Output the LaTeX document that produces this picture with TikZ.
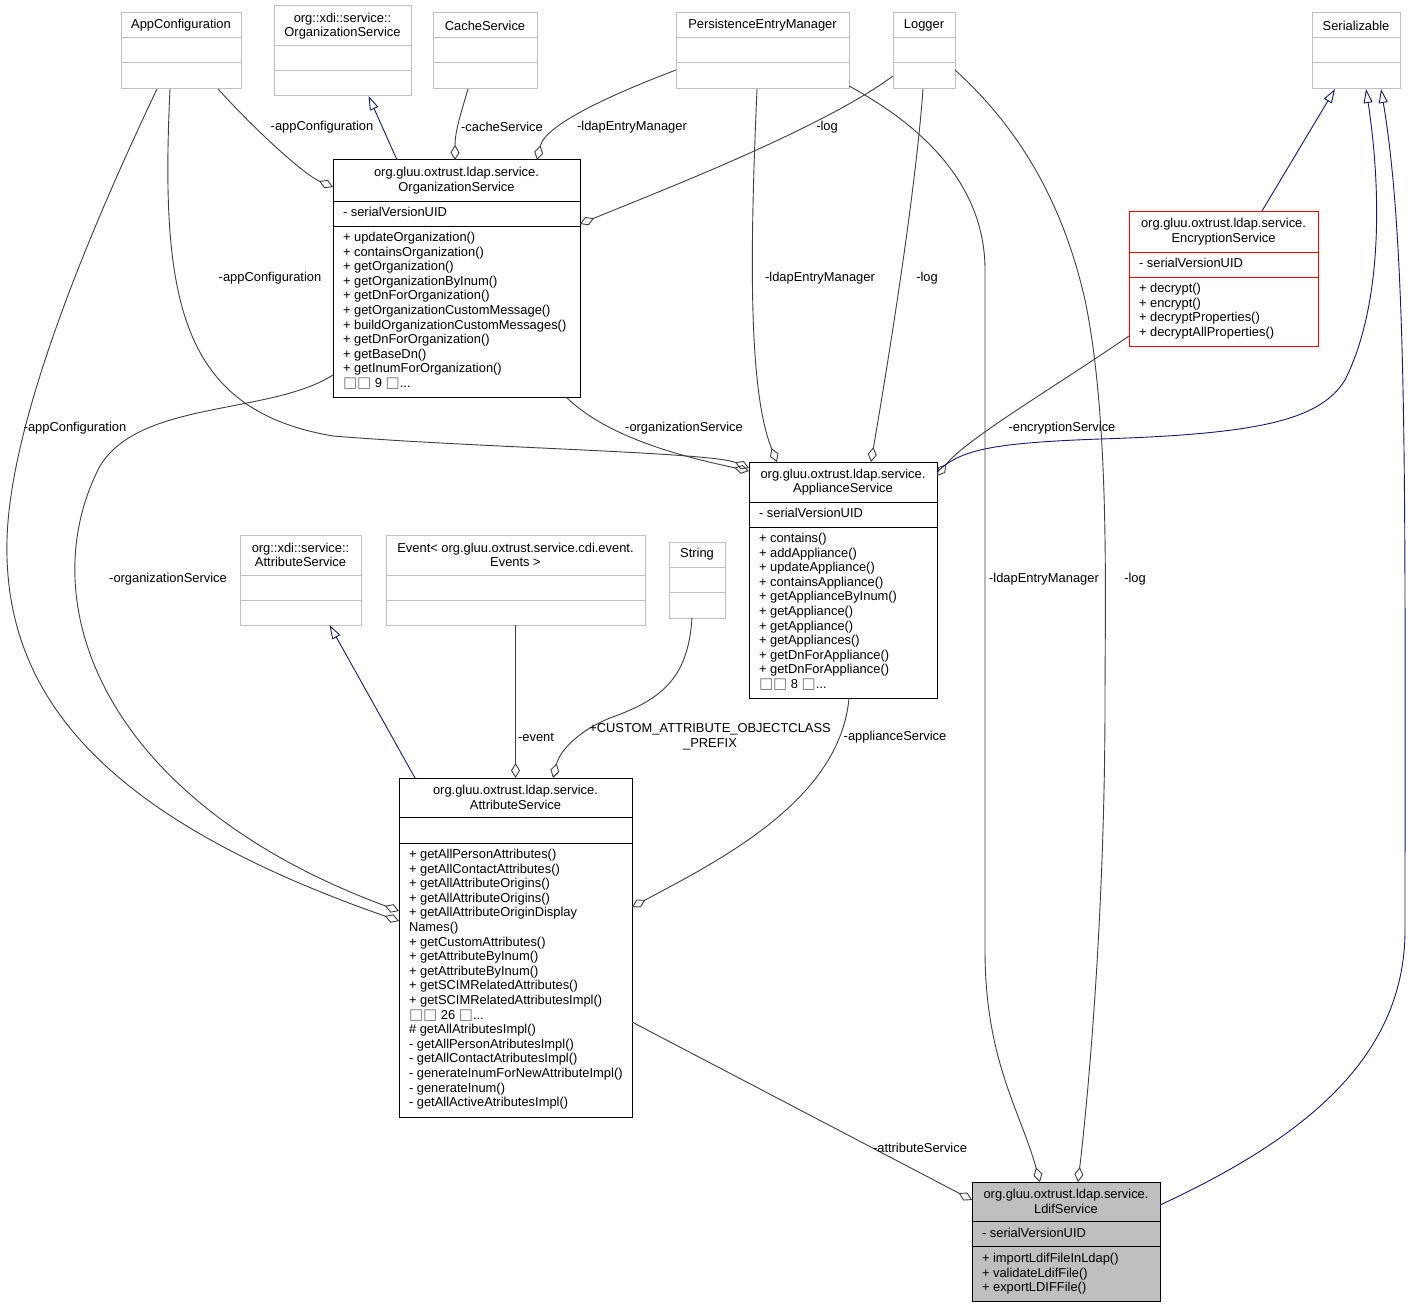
\documentclass[tikz,border=0pt]{standalone}
\usepackage{fontspec}
\setmainfont{Liberation Sans}
\newfontfamily\dejavu{DejaVu Sans}
\usetikzlibrary{arrows.meta}
\definecolor{edgegray}{HTML}{404040}
\definecolor{inhblue}{HTML}{191970}
\definecolor{boxgray}{HTML}{BFBFBF}
\newcommand{\cls}{\fontsize{12.9}{14.6}\selectfont}
\newcommand{\nog}{{\dejavu\fontsize{15}{14.6}\selectfont\textcolor{black!55}{□}}}
\newcommand{\classbox}[9]{\node[#2, minimum width=#5-#3, minimum height=#6-#4] (#1) at ({(#3+#5)/2},{(#4+#6)/2}) {}; \draw[#2 sep] (#3,#7) -- (#5,#7) (#3,#8) -- (#5,#8); \node[cname] (#1-name) at ({(#3+#5)/2},{(#4+#7)/2}) {#9};}
\begin{document}
\begin{tikzpicture}[x=1pt, y=-1pt,
    every node/.style={font=\cls, inner sep=0pt, outer sep=0pt},
    grayclass/.style={draw=boxgray, fill=white, line width=1pt},
    grayclass sep/.style={draw=boxgray, line width=1pt},
    blackclass/.style={draw=black, fill=white, line width=1pt},
    blackclass sep/.style={draw=black, line width=1pt},
    redclass/.style={draw=red, fill=white, line width=1pt},
    redclass sep/.style={draw=red, line width=1pt},
    mainclass/.style={draw=black, fill=boxgray, line width=1pt},
    mainclass sep/.style={draw=black, line width=1pt},
    cname/.style={align=center},
    ops/.style={anchor=north west, align=left},
    lbl/.style={align=center},
    uses/.style={draw=edgegray, line width=0.9pt, -{Diamond[open, length=15pt, width=9pt]}},
    isa/.style={draw=inhblue, line width=0.9pt, -{Triangle[open, length=14pt, width=9pt]}}]
    \fill[white] (0,0) rectangle (1412,1308);
    \classbox{appconf}{grayclass}{121}{13}{241}{89}{38}{63}{AppConfiguration}
    \classbox{xdiorg}{grayclass}{274}{6}{411}{96}{46}{71}{org::xdi::service::\\OrganizationService}
    \classbox{cache}{grayclass}{433}{13}{537}{89}{38}{63}{CacheService}
    \classbox{pem}{grayclass}{676}{13}{849}{89}{38}{63}{PersistenceEntryManager}
    \classbox{logger}{grayclass}{893}{13}{955}{89}{38}{63}{Logger}
    \classbox{serial}{grayclass}{1312}{13}{1400}{89}{38}{63}{Serializable}
    \classbox{orgsvc}{blackclass}{333}{160}{580}{397}{201}{226}{org.gluu.oxtrust.ldap.service.\\OrganizationService}
    \classbox{encsvc}{redclass}{1129}{211}{1318}{346}{252}{277}{org.gluu.oxtrust.ldap.service.\\EncryptionService}
    \classbox{applsvc}{blackclass}{749}{462}{937}{698}{502}{527}{org.gluu.oxtrust.ldap.service.\\ApplianceService}
    \classbox{xdiattr}{grayclass}{240}{535}{361}{625}{575}{600}{org::xdi::service::\\AttributeService}
    \classbox{event}{grayclass}{386}{535}{645}{625}{575}{600}{Event< org.gluu.oxtrust.service.cdi.event.\\Events >}
    \classbox{string}{grayclass}{669}{542}{725}{618}{567}{592}{String}
    \classbox{attrsvc}{blackclass}{399}{778}{632}{1117}{817}{843}{org.gluu.oxtrust.ldap.service.\\AttributeService}
    \classbox{ldif}{mainclass}{972}{1182}{1160}{1301}{1221}{1246}{org.gluu.oxtrust.ldap.service.\\LdifService}
    \node[ops] (orgsvc-attr) at (343,207.2) {- serialVersionUID};
    \node[ops] (orgsvc-ops) at (343,232.2) {+ updateOrganization()\\+ containsOrganization()\\+ getOrganization()\\+ getOrganizationByInum()\\+ getDnForOrganization()\\+ getOrganizationCustomMessage()\\+ buildOrganizationCustomMessages()\\+ getDnForOrganization()\\+ getBaseDn()\\+ getInumForOrganization()\\\nog\nog{} 9 \nog...};
    \node[ops] (encsvc-attr) at (1139,258.2) {- serialVersionUID};
    \node[ops] (encsvc-ops) at (1139,283.2) {+ decrypt()\\+ encrypt()\\+ decryptProperties()\\+ decryptAllProperties()};
    \node[ops] (applsvc-attr) at (759,508.2) {- serialVersionUID};
    \node[ops] (applsvc-ops) at (759,533.2) {+ contains()\\+ addAppliance()\\+ updateAppliance()\\+ containsAppliance()\\+ getApplianceByInum()\\+ getAppliance()\\+ getAppliance()\\+ getAppliances()\\+ getDnForAppliance()\\+ getDnForAppliance()\\\nog\nog{} 8 \nog...};
    \node[ops] (attrsvc-ops) at (409,849.2) {+ getAllPersonAttributes()\\+ getAllContactAttributes()\\+ getAllAttributeOrigins()\\+ getAllAttributeOrigins()\\+ getAllAttributeOriginDisplay\\Names()\\+ getCustomAttributes()\\+ getAttributeByInum()\\+ getAttributeByInum()\\+ getSCIMRelatedAttributes()\\+ getSCIMRelatedAttributesImpl()\\\nog\nog{} 26 \nog...\\\# getAllAtributesImpl()\\- getAllPersonAtributesImpl()\\- getAllContactAtributesImpl()\\- generateInumForNewAttributeImpl()\\- generateInum()\\- getAllActiveAtributesImpl()};
    \node[ops] (ldif-attr) at (982,1228.2) {- serialVersionUID};
    \node[ops] (ldif-ops) at (982,1253.2) {+ importLdifFileInLdap()\\+ validateLdifFile()\\+ exportLDIFFile()};
    \draw[isa] ([xshift=-59.5]orgsvc.north) -- ([xshift=26]xdiorg.south);
    \draw[uses] ([xshift=37]appconf.south) .. controls (260,135) and (305,175) .. ([yshift=-27]orgsvc.north west);
    \draw[uses] ([xshift=-17]cache.south) .. controls (462,110) and (455,130) .. ([xshift=-1.5]orgsvc.north);
    \draw[uses] ([yshift=-19]pem.west) .. controls (610,95) and (545,125) .. ([xshift=80.5]orgsvc.north);
    \draw[uses] ([yshift=-25]logger.west) .. controls (820,130) and (650,195) .. ([yshift=-64]orgsvc.north east);
    \draw[uses] ([xshift=-11]appconf.south) .. controls (160,300) and (180,410) .. (333,436) .. controls (480,448) and (710,452) .. ([yshift=-6]applsvc.north west);
    \draw[uses] ([xshift=109.5]orgsvc.south) .. controls (610,440) and (690,458) .. ([yshift=-9]applsvc.north west);
    \draw[uses] ([xshift=-5.5]pem.south) .. controls (750,250) and (748,390) .. ([xshift=-66]applsvc.north);
    \draw[uses] ([xshift=-1]logger.south) .. controls (915,200) and (885,380) .. ([xshift=28]applsvc.north);
    \draw[uses] ([yshift=10]encsvc.south west) .. controls (1050,390) and (965,440) .. ([yshift=-14]applsvc.north east);
    \draw[isa] ([yshift=-10]applsvc.north east) .. controls (960,450) and (990,443) .. (1100,439) .. controls (1260,434) and (1320,420) .. (1345,380) .. controls (1385,300) and (1380,180) .. ([xshift=10]serial.south);
    \draw[isa] ([xshift=38.5]encsvc.north) -- ([xshift=-21]serial.south);
    \draw[isa] ([yshift=36.5]ldif.east) .. controls (1300,1140) and (1405,1060) .. (1405,930) .. controls (1405,500) and (1408,250) .. ([xshift=25]serial.south);
    \draw[uses] ([xshift=-24]appconf.south) .. controls (90,230) and (10,420) .. (7,540) .. controls (3,700) and (110,820) .. ([yshift=26.5]attrsvc.west);
    \draw[uses] ([yshift=22]orgsvc.south west) .. controls (270,415) and (140,400) .. (100,466) .. controls (30,600) and (100,800) .. ([yshift=36.5]attrsvc.west);
    \draw[isa] ([xshift=-100.5]attrsvc.north) -- ([xshift=29]xdiattr.south);
    \draw[uses] (event.south) -- (attrsvc.north);
    \draw[uses] ([xshift=-5]string.south) .. controls (688,680) and (660,700) .. (610,718) .. controls (580,730) and (560,750) .. ([xshift=37.5]attrsvc.north);
    \draw[uses] ([xshift=6]applsvc.south) .. controls (840,800) and (720,860) .. ([yshift=40.5]attrsvc.east);
    \draw[uses] ([yshift=-74.5]attrsvc.east) -- ([yshift=41.5]ldif.west);
    \draw[uses] ([yshift=3]pem.south east) .. controls (930,130) and (985,190) .. (985,270) -- (985,950) .. controls (985,1060) and (1020,1110) .. ([xshift=-26]ldif.north);
    \draw[uses] ([yshift=-19]logger.east) .. controls (1010,120) and (1060,190) .. (1085,300) .. controls (1110,420) and (1105,600) .. (1105,700) .. controls (1105,900) and (1090,1080) .. ([xshift=12]ldif.north);
    \node[lbl] (l-appconf-org) at (322,127) {-appConfiguration};
    \node[lbl] (l-cache-org) at (502,127) {-cacheService};
    \node[lbl] (l-pem-org) at (632,127) {-ldapEntryManager};
    \node[lbl] (l-log-org) at (827,127) {-log};
    \node[lbl] (l-appconf-appl) at (270,278) {-appConfiguration};
    \node[lbl] (l-pem-appl) at (820,278) {-ldapEntryManager};
    \node[lbl] (l-log-appl) at (927,278) {-log};
    \node[lbl] (l-appconf-attr) at (75,428) {-appConfiguration};
    \node[lbl] (l-org-appl) at (684,428) {-organizationService};
    \node[lbl] (l-enc-appl) at (1062,428) {-encryptionService};
    \node[lbl] (l-org-attr) at (168,579) {-organizationService};
    \node[lbl] (l-pem-ldif) at (1044,579) {-ldapEntryManager};
    \node[lbl] (l-log-ldif) at (1135,579) {-log};
    \node[lbl] (l-event-attr) at (536,737) {-event};
    \node[lbl] (l-string-attr) at (710,737) {+CUSTOM\_ATTRIBUTE\_OBJECTCLASS\\\_PREFIX};
    \node[lbl] (l-appl-attr) at (895,737) {-applianceService};
    \node[lbl] (l-attr-ldif) at (920,1148) {-attributeService};
\end{tikzpicture}
\end{document}
